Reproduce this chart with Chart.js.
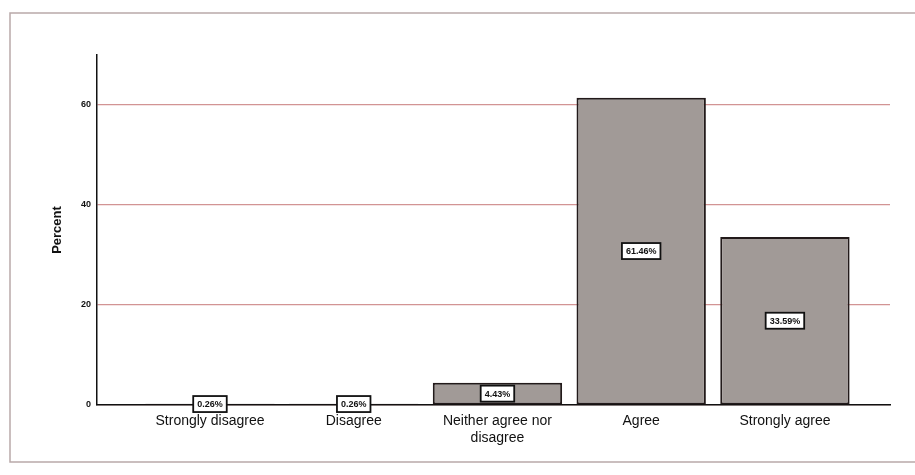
<!DOCTYPE html>
<html>
<head>
<meta charset="utf-8">
<script src="https://cdn.jsdelivr.net/npm/chart.js@4/dist/chart.umd.min.js"></script>
<style>
  html, body { margin: 0; padding: 0; background: #fff; }
  #wrap { width: 915px; height: 475px; position: relative; }
</style>
</head>
<body>
<div id="wrap"><canvas id="chart" width="915" height="475"></canvas></div>
<script>
const categories = ['Strongly disagree', 'Disagree', ['Neither agree nor', 'disagree'], 'Agree', 'Strongly agree'];
const percentValues = [0.26, 0.26, 4.43, 61.46, 33.59];
const yTicks = [0, 20, 40, 60];

// frame of the chart box
const framePlugin = {
    id: 'frame',
    beforeDraw: function (chart) {
        const ctx = chart.ctx;
        ctx.save();
        ctx.strokeStyle = '#b9a9a9';
        ctx.lineWidth = 1.5;
        ctx.strokeRect(10, 13, 930, 449);
        ctx.restore();
    }
};

// boxed percent labels in the middle of each bar
const boxLabels = {
    id: 'boxLabels',
    afterDatasetsDraw: function (chart) {
        const ctx = chart.ctx;
        const meta = chart.getDatasetMeta(0);
        ctx.save();
        ctx.font = 'bold 9px "Liberation Sans", Arial, sans-serif';
        ctx.textAlign = 'center';
        ctx.textBaseline = 'middle';
        meta.data.forEach(function (bar, i) {
            const p = bar.getProps(['x', 'y', 'base'], true);
            const midY = (p.y + p.base) / 2;
            const text = percentValues[i].toFixed(2) + '%';
            const w = ctx.measureText(text).width + 8;
            const h = 16;
            ctx.fillStyle = '#fff';
            ctx.fillRect(p.x - w / 2, midY - h / 2, w, h);
            ctx.strokeStyle = '#111';
            ctx.lineWidth = 1.8;
            ctx.strokeRect(p.x - w / 2, midY - h / 2, w, h);
            ctx.fillStyle = '#111';
            ctx.fillText(text, p.x, midY + 0.5);
        });
        ctx.restore();
    }
};

new Chart(document.getElementById('chart'), {
    type: 'bar',
    data: {
        datasets: [{
            label: 'Percent',
            data: percentValues.map(function (v, i) { return { x: i, y: v }; }),
            backgroundColor: '#a19a97',
            borderColor: '#221a1a',
            borderWidth: 2,
            borderSkipped: false,
            barPercentage: 0.9,
            categoryPercentage: 1
        }]
    },
    options: {
        responsive: false,
        animation: false,
        layout: { padding: { left: 50, top: 55, right: 25, bottom: 0 } },
        plugins: {
            legend: { display: false },
            tooltip: { enabled: false }
        },
        scales: {
            x: {
                type: 'linear',
                offset: false,
                min: -0.786,
                max: 4.731,
                afterFit: function (scale) { scale.height = 70; },
                afterBuildTicks: function (scale) {
                    scale.ticks = categories.map(function (c, i) { return { value: i }; });
                },
                grid: { display: false, drawTicks: false, offset: false },
                border: { color: '#111', width: 1.5 },
                ticks: {
                    autoSkip: false,
                    maxRotation: 0,
                    padding: 8,
                    color: '#111',
                    font: { family: '"Liberation Sans", Arial, sans-serif', size: 14 },
                    callback: function (value) { return categories[value]; }
                }
            },
            y: {
                min: 0,
                max: 70,
                afterFit: function (scale) { scale.width = 47; },
                afterBuildTicks: function (scale) {
                    scale.ticks = yTicks.map(function (v) { return { value: v }; });
                },
                grid: {
                    drawTicks: false,
                    lineWidth: 1.2,
                    color: '#d29494'
                },
                border: { color: '#111', width: 1.5 },
                ticks: {
                    padding: 6,
                    color: '#111',
                    font: { family: '"Liberation Sans", Arial, sans-serif', size: 9, weight: 'bold' }
                },
                title: {
                    display: true,
                    text: 'Percent',
                    color: '#111',
                    padding: 0,
                    font: { family: '"Liberation Sans", Arial, sans-serif', size: 13, weight: 'bold' }
                }
            }
        }
    },
    plugins: [framePlugin, boxLabels]
});
</script>
</body>
</html>
